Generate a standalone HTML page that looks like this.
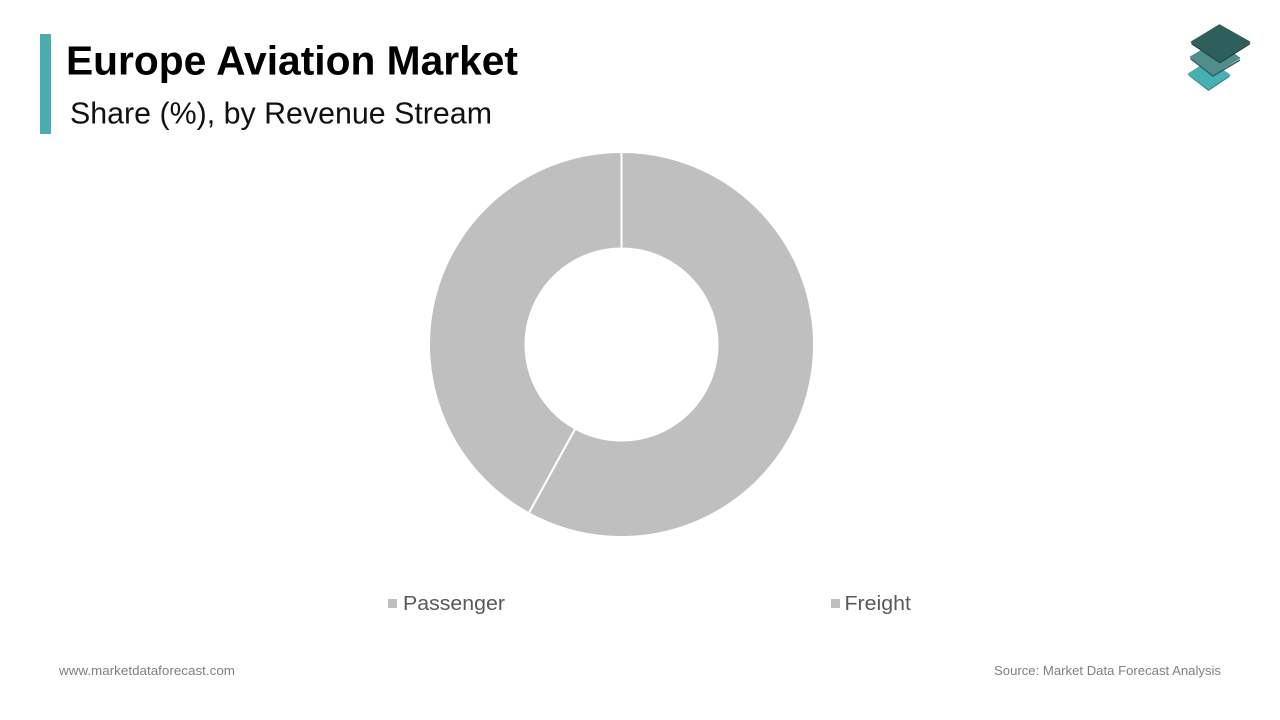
<!DOCTYPE html>
<html lang="en">
<head>
<meta charset="utf-8">
<title>Europe Aviation Market</title>
<style>
html,body{margin:0;padding:0;background:#fff;}
svg{display:block;font-family:"Liberation Sans",sans-serif;}
</style>
</head>
<body>
<svg id="chart" width="1280" height="720" viewBox="0 0 1280 720" xmlns="http://www.w3.org/2000/svg">
  <rect x="40" y="34" width="11" height="100" fill="#4bacae"/>
  <text x="66" y="74.5" font-size="41" font-weight="700" fill="#000" textLength="452" lengthAdjust="spacingAndGlyphs">Europe Aviation Market</text>
  <text x="70" y="123.5" font-size="31" fill="#111" textLength="422" lengthAdjust="spacingAndGlyphs">Share (%), by Revenue Stream</text>

  <g stroke-linejoin="round">
    <polyline points="1189,75 1208.5,90 1229.5,76" fill="none" stroke="#2f8486" stroke-width="1.5"/>
    <polygon points="1209,61 1229.5,75 1208.5,88.5 1188.5,74" fill="#47b0b2" stroke="#47b0b2" stroke-width="1.5"/>
    <polyline points="1190.5,58.5 1213,76 1240,60" fill="none" stroke="#2c5c5a" stroke-width="1.5"/>
    <polygon points="1216,42 1239.5,58 1213,74.5 1190.5,57" fill="#508d8b" stroke="#508d8b" stroke-width="1.5"/>
    <polyline points="1191.5,43.5 1220,62.5 1250,43.5" fill="none" stroke="#1f4544" stroke-width="1.5"/>
    <polygon points="1219.5,25 1249.5,42 1220,61 1191.5,42" fill="#2f5f5d" stroke="#2f5f5d" stroke-width="1.5"/>
  </g>

  <g id="donut"></g>

  <g id="legend"></g>

  <text x="59" y="675" font-size="13" fill="#7f7f7f" textLength="176" lengthAdjust="spacingAndGlyphs">www.marketdataforecast.com</text>
  <text x="994" y="675" font-size="13" fill="#7f7f7f" textLength="227" lengthAdjust="spacingAndGlyphs">Source: Market Data Forecast Analysis</text>
</svg>
<script>
const categories = ['Passenger', 'Freight'];
const shareValues = [58, 42];

const svgNS = 'http://www.w3.org/2000/svg';
const cx = 621.5, cy = 344.5, outerR = 192.5, innerR = 96;
const sliceColor = '#bfbfbf';
const legendSwatchX = [388, 831];
const legendLabelX = [403, 844.5];
const legendWidths = [102, 66.5];

function polar(r, frac) {
  const a = frac * 2 * Math.PI;
  return [cx + r * Math.sin(a), cy - r * Math.cos(a)];
}

function slicePath(f0, f1) {
  const large = (f1 - f0) > 0.5 ? 1 : 0;
  const p0 = polar(outerR, f0), p1 = polar(outerR, f1);
  const p2 = polar(innerR, f1), p3 = polar(innerR, f0);
  return 'M' + p0[0] + ' ' + p0[1] +
    'A' + outerR + ' ' + outerR + ' 0 ' + large + ' 1 ' + p1[0] + ' ' + p1[1] +
    'L' + p2[0] + ' ' + p2[1] +
    'A' + innerR + ' ' + innerR + ' 0 ' + large + ' 0 ' + p3[0] + ' ' + p3[1] + 'Z';
}

const donut = document.getElementById('donut');
const legend = document.getElementById('legend');
const total = shareValues.reduce(function (s, v) { return s + v; }, 0);
let running = 0;

shareValues.forEach(function (v, i) {
  const f0 = running / total;
  running += v;
  const f1 = running / total;
  const path = document.createElementNS(svgNS, 'path');
  path.setAttribute('d', slicePath(f0, f1));
  path.setAttribute('fill', sliceColor);
  path.setAttribute('stroke', '#ffffff');
  path.setAttribute('stroke-width', '2');
  
  
  donut.appendChild(path);

  const swatch = document.createElementNS(svgNS, 'rect');
  swatch.setAttribute('x', legendSwatchX[i]);
  swatch.setAttribute('y', 599);
  swatch.setAttribute('width', 9);
  swatch.setAttribute('height', 9);
  swatch.setAttribute('fill', sliceColor);
  
  
  legend.appendChild(swatch);

  const label = document.createElementNS(svgNS, 'text');
  label.setAttribute('x', legendLabelX[i]);
  label.setAttribute('y', 610);
  label.setAttribute('font-size', 20.5);
  label.setAttribute('fill', '#595959');
  label.setAttribute('textLength', legendWidths[i]);
  label.setAttribute('lengthAdjust', 'spacingAndGlyphs');
  label.textContent = categories[i];
  
  
  legend.appendChild(label);
});
</script>
</body>
</html>
